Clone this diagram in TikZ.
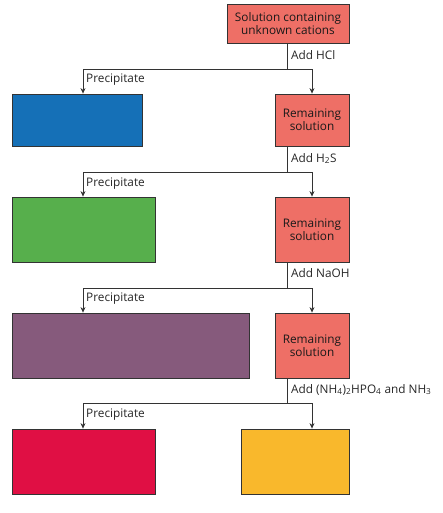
\documentclass[tikz,border=0pt]{standalone}
\usepackage{fontspec}
\setmainfont{Open Sans}
\usetikzlibrary{arrows.meta}
\definecolor{salmon}{HTML}{EE6F66}
\definecolor{pblue}{HTML}{1570B7}
\definecolor{pgreen}{HTML}{57AF4C}
\definecolor{ppurple}{HTML}{865A7C}
\definecolor{pred}{HTML}{E00F44}
\definecolor{pyellow}{HTML}{F9B82C}
\begin{document}
\begin{tikzpicture}[x=1pt,y=-1pt]
    \tikzstyle{box}=[draw=black!80, line width=0.8pt, inner sep=0pt, align=center, font=\fontsize{11.8}{13}\selectfont, text=black!90]
    \tikzstyle{lbl}=[anchor=base west, inner sep=0pt, font=\fontsize{11.8}{13}\selectfont, text=black!85]
    \tikzstyle{conn}=[draw=black!80, line width=0.8pt]
    \tikzstyle{arr}=[conn, -{Stealth[length=5.5pt,width=5pt]}]
    \useasboundingbox (0,0) rectangle (442,513);
    \coordinate (lx) at (83,0);
    \node[box, fill=salmon, minimum width=122pt, minimum height=39pt] (sol) at (288,23.5) {Solution containing\\unknown cations};
    \node[box, fill=pblue, minimum width=130pt, minimum height=52pt] (p1) at (77,120) {};
    \node[box, fill=salmon, minimum width=74pt, minimum height=52pt] (r1) at (312,120) {Remaining\\solution};
    \node[box, fill=pgreen, minimum width=143pt, minimum height=65pt] (p2) at (83.5,229.5) {};
    \node[box, fill=salmon, minimum width=74pt, minimum height=65pt] (r2) at (312,229.5) {Remaining\\solution};
    \node[box, fill=ppurple, minimum width=237pt, minimum height=65pt] (p3) at (130.5,345.5) {};
    \node[box, fill=salmon, minimum width=74pt, minimum height=65pt] (r3) at (312,345.5) {Remaining\\solution};
    \node[box, fill=pred, minimum width=143pt, minimum height=65pt] (p4) at (83.5,461.5) {};
    \node[box, fill=pyellow, minimum width=108pt, minimum height=65pt] (r4) at (295,461.5) {};
    \coordinate (j1) at (287,69);
    \coordinate (j2) at (287,172);
    \coordinate (j3) at (287,288);
    \coordinate (j4) at (287,403);
    \draw[conn] (sol.south -| j1) -- (j1);
    \draw[arr] (j1) -| (p1.north -| lx);
    \draw[arr] (j1) -| (r1.north);
    \draw[conn] (r1.south -| j2) -- (j2);
    \draw[arr] (j2) -| (p2.north -| lx);
    \draw[arr] (j2) -| (r2.north);
    \draw[conn] (r2.south -| j3) -- (j3);
    \draw[arr] (j3) -| (p3.north -| lx);
    \draw[arr] (j3) -| (r3.north);
    \draw[conn] (r3.south -| j4) -- (j4);
    \draw[arr] (j4) -| (p4.north -| lx);
    \draw[arr] (j4) -| (r4.north -| r3.north);
    \node[lbl] (a1) at (291,60) {Add HCl};
    \node[lbl] (a2) at (291,162) {Add H\textsubscript{2}S};
    \node[lbl] (a3) at (291,277) {Add NaOH};
    \node[lbl] (a4) at (291,393) {Add (NH\textsubscript{4})\textsubscript{2}HPO\textsubscript{4} and NH\textsubscript{3}};
    \node[lbl] (q1) at (86,83) {Precipitate};
    \node[lbl] (q2) at (86,186) {Precipitate};
    \node[lbl] (q3) at (86,301) {Precipitate};
    \node[lbl] (q4) at (86,417) {Precipitate};
\end{tikzpicture}
\end{document}
